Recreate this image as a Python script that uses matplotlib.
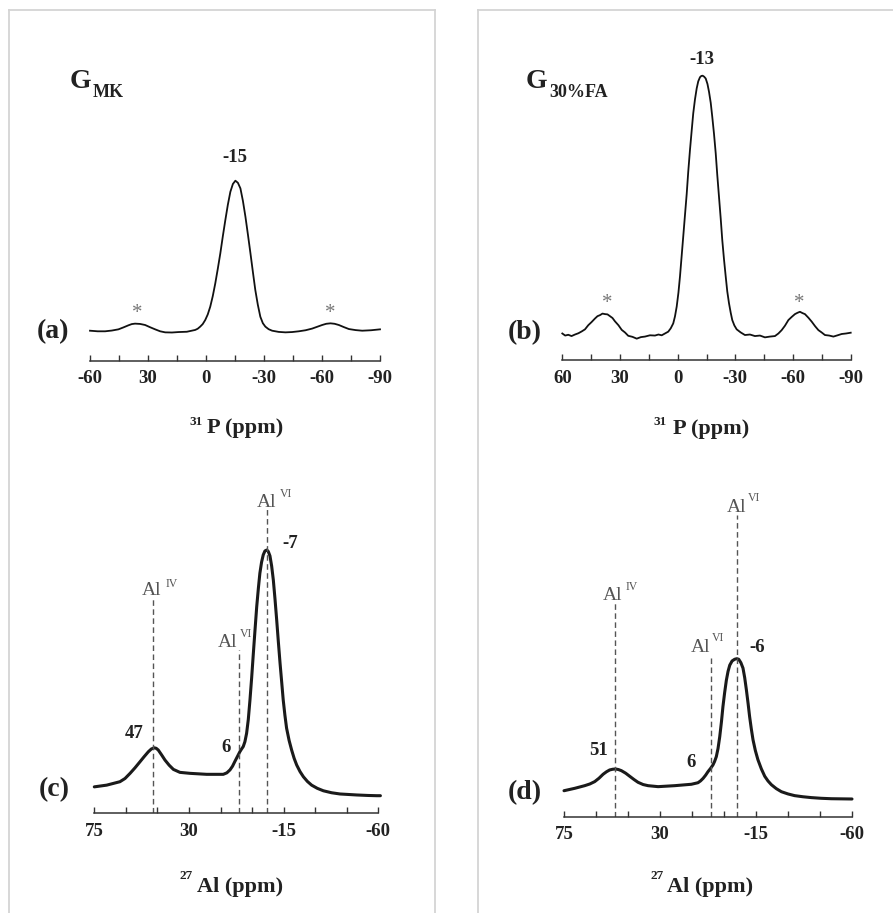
import matplotlib
matplotlib.use("Agg")
import matplotlib.pyplot as plt
from matplotlib.lines import Line2D

# ---------------- data ----------------
# (a) 31P, G_MK
ppm_a = [60, 56, 52.2, 48.7, 45.3, 42.7, 40.1, 38.4, 36.7, 34.1, 31.5, 28.9, 26.3, 23.7, 21.1,
         17.6, 14.2, 9.9, 5.6, 4.3, 3.0, 1.7, 0.4, -0.9, -2.2, -3.5, -4.8, -6.1, -7.4, -8.7,
         -10.0, -11.3, -12.6, -13.9, -15.2, -16.5, -17.8, -19.1, -20.4, -21.7, -23.0, -24.3,
         -25.5, -26.8, -28.1, -29.4, -30.7, -32.4, -34.2, -37.6, -41.1, -44.5, -48.0, -51.5,
         -54.9, -57.5, -60.1, -62.2, -64.4, -66.5, -68.7, -71.3, -73.9, -77.4, -80.8, -85.4, -90]
int_a = [0.2, -0.2, -0.2, 0.3, 1.1, 2.4, 3.8, 4.6, 4.9, 4.7, 4.0, 2.5, 1.1, -0.2, -0.9,
         -1.0, -0.7, -0.5, 0.7, 1.5, 2.9, 4.6, 7.3, 11.0, 16.2, 23.2, 31.7, 41.4, 51.6, 63.0,
         73.8, 84.0, 92.6, 97.8, 100, 98.6, 94.9, 86.5, 76.0, 64.0, 51.6, 38.8,
         27.3, 17.5, 9.5, 5.2, 2.9, 1.2, 0.2, -0.6, -0.9, -0.7, -0.2, 0.5,
         1.6, 2.8, 4.0, 4.8, 5.1, 4.8, 4.0, 2.6, 1.3, 0.6, 0.2, 0.5, 1.1]

# (b) 31P, G_30%FA
ppm_b = [60.0, 58.5, 56.9, 55.2, 53.4, 51.6, 49.9, 48.2, 46.5, 44.8, 43.0, 41.7, 40.4, 39.1,
         37.8, 36.5, 35.2, 33.9, 32.6, 30.8, 29.1, 27.4, 25.7, 23.5, 21.3, 19.1, 17.0, 14.4,
         11.8, 10.0, 8.3, 6.6, 4.9, 3.6, 2.3, 1.4, 0.5, -0.4, -1.2, -2.0, -2.9, -3.8, -4.7,
         -5.5, -6.4, -7.3, -8.1, -9.0, -9.9, -10.7, -11.6, -12.3, -13.0, -13.8, -14.6, -15.5,
         -16.3, -17.2, -18.0, -18.9, -19.8, -20.6, -21.5, -22.4, -23.2, -24.1, -25.0, -25.8,
         -26.7, -27.6, -28.4, -29.5, -30.7, -32.8, -35.0, -37.6, -40.2, -42.8, -45.4, -48.0,
         -50.6, -52.4, -54.1, -55.8, -57.6, -59.3, -61.0, -62.3, -63.6, -64.9, -66.2, -68.0,
         -69.7, -71.5, -73.2, -74.9, -76.6, -78.8, -81.0, -83.2, -85.3, -87.6, -90.0]
int_b = [0.2, -0.6, -0.3, -0.8, -0.2, 0.3, 1.0, 1.8, 3.4, 4.6, 6.0, 6.9, 7.3, 7.9,
         7.7, 7.6, 6.9, 6.2, 4.9, 3.4, 1.6, 0.6, -0.7, -1.1, -1.8, -1.2, -1.0, -0.5,
         -0.6, -0.2, -0.5, 0.2, 0.9, 2.2, 4.1, 6.8, 10.6, 16.0, 22.2, 29.5, 37.7, 46.0, 54.2,
         62.8, 71.2, 78.8, 85.4, 90.8, 95.1, 97.8, 99.4, 99.9, 100, 99.6, 98.9, 96.8,
         93.8, 89.5, 84.1, 77.5, 69.9, 61.6, 53.1, 44.6, 36.4, 28.9, 22.2, 16.5,
         11.9, 8.2, 5.4, 3.3, 1.8, 0.6, -0.4, -0.2, -0.8, -0.6, -1.3, -1.0,
         -0.8, 0.2, 1.5, 3.2, 5.4, 6.6, 7.7, 8.2, 8.6, 8.1, 7.7, 6.3,
         4.8, 3.0, 1.5, 0.6, -0.4, -0.6, -1.0, -0.5, 0.0, 0.2, 0.5]

# (c) 27Al, G_MK
ppm_c = [75, 69.1, 62.8, 60.4, 58.0, 55.7, 53.3, 51.3, 49.3, 47.9, 46.6, 45.6, 44.6, 43.0,
         41.4, 39.4, 37.4, 34.3, 29.5, 21.6, 13.7, 12.0, 10.5, 9.3, 8.2, 7.0, 5.8, 5.0, 4.2,
         3.4, 2.6, 1.8, 1.0, 0.2, -0.6, -1.4, -2.2, -3.0, -3.7, -4.5, -5.3, -6.1, -7.0, -7.7,
         -8.5, -9.3, -10.1, -10.9, -11.7, -12.5, -13.3, -14.1, -14.8, -15.6, -16.4, -17.6,
         -18.8, -20.0, -21.2, -22.8, -24.4, -26.3, -28.3, -31.0, -33.9, -37.8, -41.8, -49.7,
         -55.0, -59.2, -61.0]
int_c = [3.6, 4.3, 5.7, 7.0, 9.1, 11.3, 13.8, 15.9, 17.9, 19.0, 19.5, 19.3, 18.6, 16.6,
         14.5, 12.4, 10.7, 9.5, 9.1, 8.7, 8.7, 9.3, 10.5, 12.0, 13.9, 15.9, 17.9, 19.0, 20.0,
         22.0, 25.4, 31.0, 39.0, 48.0, 57.9, 67.5, 76.9, 84.5, 90.5, 95.0, 98.0, 99.6, 100, 99.4,
         97.6, 93.5, 87.8, 80.0, 71.5, 62.5, 53.9, 46.0, 39.0, 32.8, 27.5, 22.5,
         18.6, 15.2, 12.5, 9.8, 7.7, 5.8, 4.3, 3.0, 2.0, 1.2, 0.7, 0.3,
         0.1, 0.0, 0.0]

# (d) 27Al, G_30%FA
ppm_d = [75, 70.0, 65.3, 62.9, 60.6, 58.6, 56.7, 55.1, 53.6, 52.2, 50.9, 49.5, 48.1, 46.1,
         44.2, 42.2, 40.3, 37.9, 35.6, 30.9, 23.1, 15.3, 12.2, 11.0, 9.8, 8.6, 7.5, 6.3, 5.2,
         4.4, 3.6, 2.8, 2.0, 1.2, 0.5, -0.3, -1.1, -1.9, -2.7, -3.8, -5.0, -6.0, -6.9, -7.9,
         -8.9, -9.7, -10.5, -11.3, -12.0, -12.8, -13.6, -14.7, -15.9, -17.5, -19.1, -20.6,
         -22.2, -24.5, -26.9, -30.0, -33.1, -37.0, -40.9, -45.6, -50.3, -60]
int_d = [5.9, 7.6, 9.5, 10.7, 12.4, 14.8, 17.6, 19.4, 20.7, 21.2, 21.4, 21.0, 20.2, 18.4,
         16.2, 13.9, 11.9, 10.3, 9.5, 8.8, 9.5, 10.5, 11.6, 12.9, 14.7, 17.0, 19.5, 21.8, 24.2,
         26.8, 30.2, 36.0, 44.4, 55.0, 65.8, 75.8, 84.6, 91.0, 95.4, 98.4, 99.6, 100, 99.6, 97.2,
         93.3, 86.5, 77.7, 68.0, 58.8, 50.0, 42.2, 34.5, 28.0, 21.5, 16.2, 12.9,
         10.2, 7.4, 5.2, 3.6, 2.4, 1.6, 1.0, 0.5, 0.2, 0.0]

# tick values / labels
p_ticks = [60, 30, 0, -30, -60, -90]
p_ticklabels_a = ["-60", "30", "0", "-30", "-60", "-90"]
p_ticklabels_b = ["60", "30", "0", "-30", "-60", "-90"]
p_minor = [45, 15, -15, -45, -75]
al_ticks = [75, 30, -15, -60]
al_ticklabels = ["75", "30", "-15", "-60"]
al_minor = [60, 45, 15, 0, -30, -45]

# Al site marker lines: position (ppm), top height (intensity units), site label
sites_c_ppm = [47, 6, -7]
sites_c_top = [80.9, 59.3, 117.1]
sites_d_ppm = [51, 6, -6]
sites_d_top = [140.4, 101.2, 202.4]

# ---------------- figure ----------------
W, H = 893, 913
fig = plt.figure(figsize=(W / 100, H / 100), dpi=100)
fig.patch.set_facecolor("white")
SERIF = ["Liberation Serif", "DejaVu Serif"]
plt.rcParams["font.family"] = SERIF

AXC = "#333333"


def make_ax(left, right, axis_px, zero_px, ppu, top_px, xlim):
    ax = fig.add_axes([left / W, 1 - axis_px / H, (right - left) / W, (axis_px - top_px) / H])
    ax.set_xlim(*xlim)
    ax.set_ylim(-(axis_px - zero_px) / ppu, (zero_px - top_px) / ppu)
    for s in ("left", "right", "top"):
        ax.spines[s].set_visible(False)
    ax.spines["bottom"].set_color(AXC)
    ax.spines["bottom"].set_linewidth(1.1)
    ax.set_yticks([])
    ax.patch.set_alpha(0)
    ax.tick_params(axis="x", which="both", direction="in", length=4, width=1.0,
                   color=AXC, pad=7, labelsize=13.5, labelcolor="#222222")
    return ax


def style_ticklabels(ax):
    for lab in ax.get_xticklabels():
        lab.set_fontweight("bold")
        lab.set_family(SERIF)


# (a)
ax_a = make_ax(90, 380, 360.7, 331, 1.503, 150, (60, -90))
ax_a.plot(ppm_a, int_a, color="#111111", lw=1.3, clip_on=False)
ax_a.set_xticks(p_ticks, p_ticklabels_a)
ax_a.set_xticks(p_minor, minor=True)
style_ticklabels(ax_a)

# (b)
ax_b = make_ax(562.3, 850.7, 360, 334, 2.583, 60, (60, -90))
ax_b.plot(ppm_b, int_b, color="#111111", lw=1.3, clip_on=False)
ax_b.set_xticks(p_ticks, p_ticklabels_b)
ax_b.set_xticks(p_minor, minor=True)
style_ticklabels(ax_b)

# (c)
ax_c = make_ax(94.3, 378.3, 813, 795.7, 2.457, 500, (75, -60))
ax_c.plot(ppm_c, int_c, color="#1a1a1a", lw=2.2, clip_on=False, solid_capstyle="round")
ax_c.set_xticks(al_ticks, al_ticklabels)
ax_c.set_xticks(al_minor, minor=True)
style_ticklabels(ax_c)
ax_c.vlines(sites_c_ppm, ax_c.get_ylim()[0], sites_c_top, colors="#555555",
            linestyles=(0, (4, 2.5)), lw=1.0)

# (d)
ax_d = make_ax(564, 852, 816.7, 799, 1.403, 500, (75, -60))
ax_d.plot(ppm_d, int_d, color="#1a1a1a", lw=2.2, clip_on=False, solid_capstyle="round")
ax_d.set_xticks(al_ticks, al_ticklabels)
ax_d.set_xticks(al_minor, minor=True)
style_ticklabels(ax_d)
ax_d.vlines(sites_d_ppm, ax_d.get_ylim()[0], sites_d_top, colors="#555555",
            linestyles=(0, (4, 2.5)), lw=1.0)

# ---------------- panel borders ----------------
BC = "#d4d4d4"
for (x0, y0, x1, y1) in [(9, 10, 9, 913), (9, 10, 435, 10), (435, 10, 435, 913),
                         (478, 10, 478, 913), (478, 10, 893, 10)]:
    fig.add_artist(Line2D([x0 / W, x1 / W], [1 - y0 / H, 1 - y1 / H], color=BC, lw=1.3))


# ---------------- texts ----------------
def T(x, y, s, size=13.5, weight="bold", color="#222222", ha="left", va="baseline"):
    fig.text(x / W, 1 - y / H, s, fontsize=size, fontweight=weight, color=color,
             ha=ha, va=va, family=SERIF)


GRAY = "#555555"
STAR = "#777777"

# left top
T(70, 88, "G", size=20)
T(93, 97, "MK", size=13)
T(235, 158, "-15", ha="center", va="center")
T(137, 318, "*", size=15, weight="normal", color=STAR, ha="center")
T(330, 318, "*", size=15, weight="normal", color=STAR, ha="center")
T(52.5, 332, "(a)", size=20, ha="center", va="center")
T(203, 425, "31", size=9.5, ha="right")
T(245.5, 433, "P (ppm)", size=16, ha="center")

# right top
T(526, 88, "G", size=20)
T(549, 97, "30%FA", size=13)
T(702, 60, "-13", ha="center", va="center")
T(607, 308, "*", size=15, weight="normal", color=STAR, ha="center")
T(799, 308, "*", size=15, weight="normal", color=STAR, ha="center")
T(524.5, 333, "(b)", size=20, ha="center", va="center")
T(667, 425, "31", size=9.5, ha="right")
T(711.5, 434, "P (ppm)", size=16, ha="center")

# left bottom
T(257, 507, "Al", size=14, weight="normal", color=GRAY)
T(280, 497, "VI", size=8.5, weight="normal", color=GRAY)
T(282, 543, "-7", va="center")
T(142, 595, "Al", size=14, weight="normal", color=GRAY)
T(166, 587, "IV", size=8.5, weight="normal", color=GRAY)
T(218, 647, "Al", size=14, weight="normal", color=GRAY)
T(240, 637, "VI", size=8.5, weight="normal", color=GRAY)
T(134, 733, "47", ha="center", va="center")
T(226, 748, "6", ha="center", va="center")
T(54, 790, "(c)", size=20, ha="center", va="center")
T(193, 879, "27", size=9.5, ha="right")
T(240, 892, "Al (ppm)", size=16, ha="center")

# right bottom
T(727, 512, "Al", size=14, weight="normal", color=GRAY)
T(748, 501, "VI", size=8.5, weight="normal", color=GRAY)
T(603, 600, "Al", size=14, weight="normal", color=GRAY)
T(626, 590, "IV", size=8.5, weight="normal", color=GRAY)
T(691, 652, "Al", size=14, weight="normal", color=GRAY)
T(712, 641, "VI", size=8.5, weight="normal", color=GRAY)
T(757.5, 647, "-6", ha="center", va="center")
T(599, 750, "51", ha="center", va="center")
T(691.5, 762, "6", ha="center", va="center")
T(524.5, 793, "(d)", size=20, ha="center", va="center")
T(664, 879, "27", size=9.5, ha="right")
T(710.5, 892, "Al (ppm)", size=16, ha="center")

fig.savefig("out.png", dpi=100, facecolor="white")
